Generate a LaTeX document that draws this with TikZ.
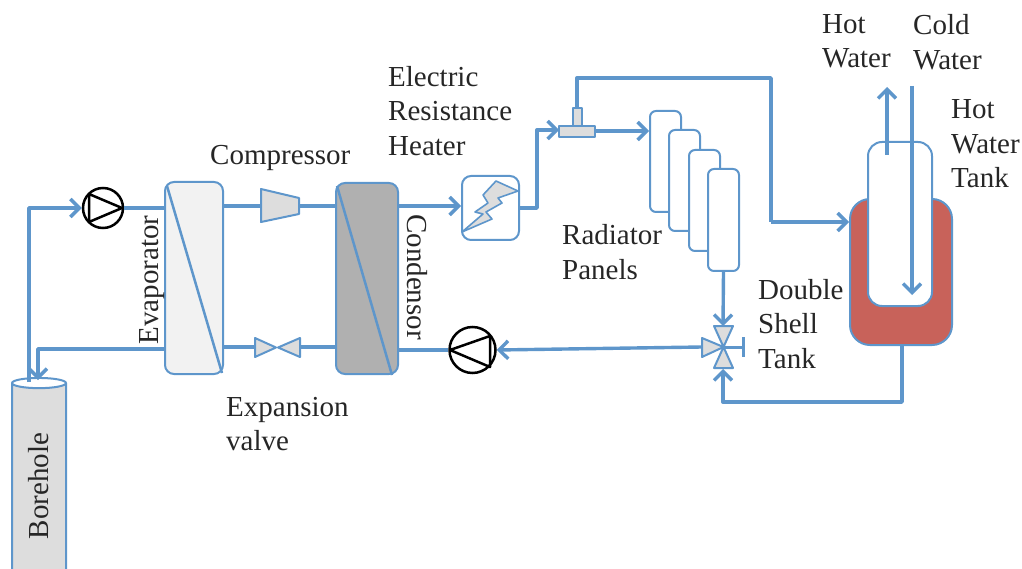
\documentclass[tikz,border=0pt]{standalone}
\usepackage{fontspec}
\usepackage{xcolor}
\setmainfont{Liberation Serif}
\usetikzlibrary{arrows.meta,shapes.geometric}
\definecolor{pipe}{HTML}{5E96CB}
\definecolor{lightfill}{HTML}{DDDDDD}
\definecolor{tankred}{HTML}{C8625A}
\tikzset{
    pipe line/.style={draw=pipe,line width=3.4pt},
    unit box/.style={draw=pipe,line width=2pt,rounded corners=9pt,inner sep=0pt},
    part/.style={draw=pipe,line width=2pt,fill=lightfill,line join=round},
    label/.style={align=left,anchor=west,inner sep=0pt,text=black!85,font=\fontsize{29}{34.5}\selectfont}
}
\begin{document}
\begin{tikzpicture}[x=1pt,y=-1pt]
        \useasboundingbox (0,0) rectangle (1022,569);
        \begin{scope}[every node/.style={unit box}]
            \node [cylinder,rotate=90,aspect=0.5,minimum height=210pt,minimum width=54pt,cylinder uses custom fill,cylinder body fill=lightfill,cylinder end fill=white,text=black!85,font=\fontsize{29}{34.5}\selectfont,rounded corners=0pt] (borehole) at (39,486) {Borehole};
            \node [fill=black!5,minimum width=58pt,minimum height=192pt] (evap) at (194,278) {};
            \node [fill=black!31,minimum width=62pt,minimum height=191pt] (cond) at (367,278.5) {};
            \node [fill=white,minimum width=57pt,minimum height=64pt] (heater) at (490.5,208) {};
            \node [fill=white,minimum width=31pt,minimum height=101pt,rounded corners=6pt] (rad1) at (665.5,161.5) {};
            \node [fill=white,minimum width=31pt,minimum height=101pt,rounded corners=6pt] (rad2) at (684.5,180.5) {};
            \node [fill=white,minimum width=31pt,minimum height=101pt,rounded corners=6pt] (rad3) at (704.5,200.5) {};
            \node [fill=white,minimum width=31pt,minimum height=102pt,rounded corners=6pt] (rad4) at (723.5,220) {};
            \node [fill=tankred,minimum width=102pt,minimum height=146pt,rounded corners=20pt] (tank) at (901,272) {};
            \node [fill=white,minimum width=64pt,minimum height=164pt,rounded corners=14pt] (inner) at (900,224) {};
        \end{scope}
        \begin{scope}[every node/.style={circle,draw=black,line width=2.5pt,fill=white,inner sep=0pt}]
            \node [minimum size=40pt] (pumpA) at (103,208) {};
            \node [minimum size=46pt] (pumpB) at (472.5,350) {};
        \end{scope}
        \draw [black,line width=2.5pt,line join=round] (89,194) -- (122,208) -- (89,222) -- cycle;
        \draw [black,line width=2.5pt,line join=round] (490,336) -- (450,350) -- (490,367) -- cycle;

        \draw [pipe,line width=2.5pt] (167,186) -- (222,373);
        \draw [pipe,line width=2.5pt] (337,186) -- (392,375);

        \coordinate (compIn) at (261,206);
        \coordinate (compOut) at (300,206);
        \draw [part] (261,189) -- (299,198) -- (299,214) -- (261,222) -- cycle;

        \coordinate (expIn) at (300,347);
        \coordinate (expOut) at (255,347);
        \draw [part] (255,338) -- (276,347.5) -- (255,357) -- cycle;
        \draw [part] (300,338) -- (278,347.5) -- (300,357) -- cycle;

        \draw [part,line width=1.6pt] (462,232) -- (483,214) -- (475,212) -- (488,203) -- (483,195) -- (496,181) -- (518,191) -- (498,198) -- (502,203) -- (486,212) -- (492,219) -- cycle;

        \coordinate (teeIn) at (559,130);
        \coordinate (teeOut) at (596,131);
        \coordinate (teeTop) at (577,107);
        \draw [part] (572.5,126) rectangle (581.5,108);
        \draw [part] (559,126) rectangle (595,137);

        \coordinate (valveTop) at (723,326);
        \coordinate (valveBot) at (723,369);
        \coordinate (valveLeft) at (702,347);
        \draw [part] (714,326) -- (733,326) -- (723.5,347) -- cycle;
        \draw [part] (714,368) -- (733,368) -- (723.5,347) -- cycle;
        \draw [part] (702,338) -- (723.5,347) -- (702,357) -- cycle;
        \draw [pipe,line width=3pt] (723.5,347) -- (743,347);
        \draw [pipe,line width=3pt] (743,337) -- (743,357);

        \coordinate (hotEnd) at (887,87);
        \coordinate (hotIn) at (887,155);
        \coordinate (coldIn) at (912,86);
        \coordinate (coldEnd) at (912,295);

        \begin{scope}[>={Straight Barb[length=9pt,width=18pt,line width=3.4pt]}, every edge/.style={pipe line}]
            \path (pumpA.east) edge (pumpA.east -| evap.west);
            \path (evap.east |- compIn) edge (compIn);
            \path (compOut) edge (compOut -| cond.west);
            \path [->] (cond.east |- compIn) edge (heater.west |- compIn);
            \path (cond.west |- expIn) edge (expIn);
            \path (expOut) edge (expOut -| evap.east);
            \path (cond.east |- pumpB.west) edge (pumpB.west);
            \path [->] (valveLeft) edge (pumpB.east);
            \path (rad4.south) edge [->] (valveTop);
            \path [->] (teeOut) edge (rad1.west |- teeOut);
            \path [->] (hotIn) edge (hotEnd);
            \path [->] (coldIn) edge (coldEnd);
        \end{scope}
        \begin{scope}[>={Straight Barb[length=9pt,width=18pt,line width=3.4pt]}, pipe line, line join=round]
            \draw [->] (29,382) -- (29,208) -- (pumpA.west);
            \draw [->] (evap.west |- 0,349) -- (38,349) -- (38,380);
            \draw [->] (heater.east) -- (537,208) -- (537,130) -- (teeIn);
            \draw (teeTop) -- (577,78) -- (771,78) -- (771,222);
            \draw [->] (771,222) -- (tank.west |- 0,222);
            \draw [->] (tank.south -| 902,0) -- (902,402) -- (723,402) -- (valveBot);
        \end{scope}

        \node [label] (compressor) at (210,158) {Compressor};
        \node [label] (heaterText) at (388,111) {Electric\\Resistance\\Heater};
        \node [label] (radText) at (562,252) {Radiator\\Panels};
        \node [label] (shellText) at (758,324) {Double\\Shell\\Tank};
        \node [label] (expText) at (226,424) {Expansion\\valve};
        \node [label] (hotText) at (822,41) {Hot\\Water};
        \node [label] (coldText) at (913,42) {Cold\\Water};
        \node [label] (tankText) at (951,144) {Hot\\Water\\Tank};
        \node [label,anchor=center,rotate=90] (evapText) at (152,280) {Evaporator};
        \node [label,anchor=center,rotate=-90] (condText) at (417,277) {Condensor};
    \end{tikzpicture}
\end{document}
